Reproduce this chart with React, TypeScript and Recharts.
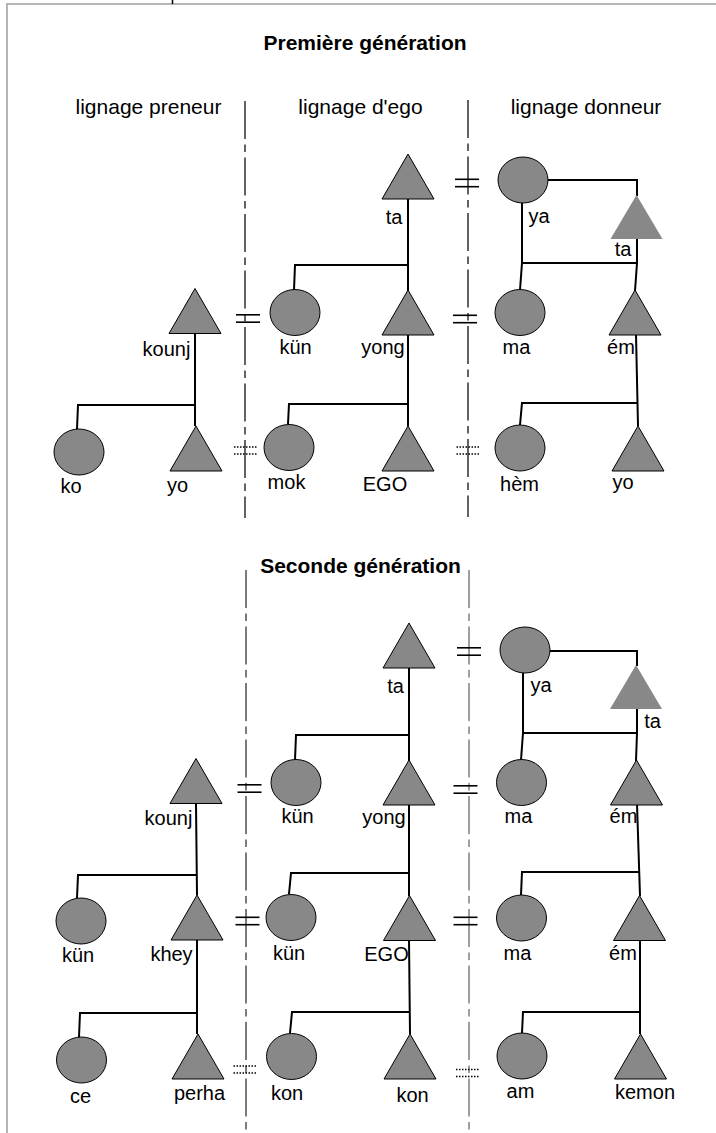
import { Scatter, ScatterChart, XAxis, YAxis } from "recharts"

// diagram space: one unit per pixel of the original figure
const W = 716
const H = 1133

type Pt = { x: number; y: number }

const circles: Pt[] = [
  // première génération
  { x: 295, y: 312.5 },
  { x: 523, y: 180 },
  { x: 520, y: 312.5 },
  { x: 79, y: 452 },
  { x: 289, y: 447.5 },
  { x: 520, y: 448 },
  // seconde génération
  { x: 525, y: 650 },
  { x: 521.5, y: 782.5 },
  { x: 296, y: 782.5 },
  { x: 81, y: 921 },
  { x: 291, y: 917.5 },
  { x: 521.5, y: 918 },
  { x: 81.5, y: 1060 },
  { x: 291.5, y: 1056.5 },
  { x: 522, y: 1056 },
]

const triangles: Pt[] = [
  { x: 408, y: 176.5 },
  { x: 408, y: 312.5 },
  { x: 635, y: 312.5 },
  { x: 195, y: 311 },
  { x: 196, y: 448.5 },
  { x: 408, y: 448.5 },
  { x: 638, y: 448.5 },
  { x: 409, y: 645.5 },
  { x: 409, y: 782.5 },
  { x: 636.5, y: 782.5 },
  { x: 196, y: 781 },
  { x: 197, y: 917.5 },
  { x: 409.5, y: 918 },
  { x: 639.5, y: 918 },
  { x: 198, y: 1056.5 },
  { x: 410, y: 1056.5 },
  { x: 640.5, y: 1056.5 },
]

// the mother's brother "ta" in the donor lineage, drawn without outline
const paleTriangles: Pt[] = [
  { x: 636.5, y: 217 },
  { x: 636, y: 687 },
]

const edges: Pt[][] = [
  [{ x: 408, y: 199 }, { x: 408, y: 291 }],
  [{ x: 408, y: 265 }, { x: 295, y: 265 }, { x: 294, y: 290 }],
  [{ x: 548, y: 180 }, { x: 637, y: 180 }, { x: 637, y: 196 }],
  [{ x: 522, y: 203 }, { x: 522, y: 263 }, { x: 637, y: 263 }],
  [{ x: 637, y: 239 }, { x: 637, y: 263 }, { x: 635, y: 291 }],
  [{ x: 522, y: 263 }, { x: 520, y: 290 }],
  [{ x: 636, y: 334 }, { x: 638, y: 426 }],
  [{ x: 638, y: 403 }, { x: 522, y: 403 }, { x: 520, y: 425 }],
  [{ x: 408, y: 334 }, { x: 408, y: 426 }],
  [{ x: 408, y: 404 }, { x: 289, y: 404 }, { x: 288, y: 424 }],
  [{ x: 195, y: 334 }, { x: 195, y: 426 }],
  [{ x: 195, y: 405 }, { x: 78, y: 405 }, { x: 77, y: 429 }],

  [{ x: 409, y: 668 }, { x: 409, y: 761 }],
  [{ x: 409, y: 735 }, { x: 296, y: 735 }, { x: 295, y: 760 }],
  [{ x: 550, y: 651 }, { x: 637, y: 651 }, { x: 637, y: 666 }],
  [{ x: 523, y: 673 }, { x: 523, y: 733 }, { x: 637, y: 733 }],
  [{ x: 637, y: 709 }, { x: 637, y: 733 }, { x: 636, y: 761 }],
  [{ x: 523, y: 733 }, { x: 521, y: 760 }],
  [{ x: 637, y: 804 }, { x: 640, y: 896 }],
  [{ x: 640, y: 872 }, { x: 522, y: 872 }, { x: 521, y: 895 }],
  [{ x: 640, y: 940 }, { x: 640, y: 1034 }],
  [{ x: 640, y: 1012 }, { x: 523, y: 1012 }, { x: 522, y: 1033 }],
  [{ x: 409, y: 804 }, { x: 409, y: 896 }],
  [{ x: 409, y: 873 }, { x: 291, y: 873 }, { x: 289, y: 894 }],
  [{ x: 409, y: 940 }, { x: 410, y: 1034 }],
  [{ x: 409, y: 1012 }, { x: 292, y: 1012 }, { x: 290, y: 1033 }],
  [{ x: 196, y: 804 }, { x: 197, y: 895 }],
  [{ x: 197, y: 875 }, { x: 78, y: 875 }, { x: 77, y: 898 }],
  [{ x: 197, y: 940 }, { x: 197, y: 1034 }],
  [{ x: 197, y: 1013 }, { x: 80, y: 1013 }, { x: 79, y: 1037 }],
]

// marriage links
const marriages: Pt[] = [
  { x: 467, y: 183 },
  { x: 465, y: 319 },
  { x: 248, y: 318.5 },
  { x: 469, y: 651.5 },
  { x: 465.5, y: 789.5 },
  { x: 249.5, y: 788.5 },
  { x: 247.5, y: 921 },
  { x: 465.5, y: 921 },
]

// prescribed (future) marriages
const prescribed: Pt[] = [
  { x: 245.5, y: 450.5 },
  { x: 468, y: 450.5 },
  { x: 245, y: 1069.5 },
  { x: 467.5, y: 1073 },
]

const dividers: { pts: Pt[]; color: string }[] = [
  { pts: [{ x: 245, y: 101 }, { x: 245, y: 518 }], color: "#222" },
  { pts: [{ x: 468, y: 100 }, { x: 468, y: 517 }], color: "#222" },
  { pts: [{ x: 246, y: 570 }, { x: 246, y: 1133 }], color: "#444" },
  { pts: [{ x: 469, y: 570 }, { x: 469, y: 1133 }], color: "#777" },
]

const frame: Pt[][] = [
  [{ x: 7, y: 1133 }, { x: 7, y: 4 }, { x: 716, y: 4 }],
]

type Label = { x: number; y: number; text: string }

const titles: Label[] = [
  { x: 365, y: 50, text: "Première génération" },
  { x: 360.5, y: 573, text: "Seconde génération" },
]

const headers: Label[] = [
  { x: 148.5, y: 114, text: "lignage preneur" },
  { x: 360.5, y: 114, text: "lignage d'ego" },
  { x: 586, y: 114, text: "lignage donneur" },
]

const names: Label[] = [
  { x: 394, y: 224, text: "ta" },
  { x: 539, y: 223, text: "ya" },
  { x: 623, y: 256, text: "ta" },
  { x: 295.5, y: 354, text: "kün" },
  { x: 383, y: 354, text: "yong" },
  { x: 516.5, y: 354, text: "ma" },
  { x: 621, y: 354, text: "ém" },
  { x: 166.5, y: 356, text: "kounj" },
  { x: 71, y: 493, text: "ko" },
  { x: 177.5, y: 492, text: "yo" },
  { x: 286.5, y: 489, text: "mok" },
  { x: 385, y: 491, text: "EGO" },
  { x: 519.5, y: 491, text: "hèm" },
  { x: 623, y: 489, text: "yo" },

  { x: 395.5, y: 693, text: "ta" },
  { x: 541, y: 692, text: "ya" },
  { x: 652.5, y: 728, text: "ta" },
  { x: 384, y: 824, text: "yong" },
  { x: 518.5, y: 823, text: "ma" },
  { x: 623.5, y: 823, text: "ém" },
  { x: 168.5, y: 825, text: "kounj" },
  { x: 297.5, y: 823, text: "kün" },
  { x: 78, y: 962, text: "kün" },
  { x: 171.5, y: 961, text: "khey" },
  { x: 289, y: 960, text: "kün" },
  { x: 386.5, y: 961, text: "EGO" },
  { x: 517.5, y: 960, text: "ma" },
  { x: 623, y: 960, text: "ém" },
  { x: 80.5, y: 1103, text: "ce" },
  { x: 199.5, y: 1100, text: "perha" },
  { x: 287, y: 1100, text: "kon" },
  { x: 412.5, y: 1102, text: "kon" },
  { x: 520.5, y: 1098, text: "am" },
  { x: 645, y: 1099, text: "kemon" },
]

const FONT = "'Liberation Sans', Arial, sans-serif"
const FILL = "#888888"

const noShape = () => <g />

const CircleShape = (p: any) => (
  <ellipse cx={p.cx} cy={p.cy} rx={25} ry={23} fill={FILL} stroke="#000" strokeWidth={1} />
)

const TriangleShape = (p: any) => (
  <polygon
    points={`${p.cx},${p.cy - 22.5} ${p.cx + 26},${p.cy + 22.5} ${p.cx - 26},${p.cy + 22.5}`}
    fill={FILL}
    stroke="#000"
    strokeWidth={1}
    strokeLinejoin="miter"
  />
)

const PaleTriangleShape = (p: any) => (
  <polygon
    points={`${p.cx},${p.cy - 22} ${p.cx + 26},${p.cy + 22} ${p.cx - 26},${p.cy + 22}`}
    fill={FILL}
  />
)

const MarriageShape = (p: any) => (
  <g stroke="#000" strokeWidth={1.6}>
    <line x1={p.cx - 12} x2={p.cx + 12} y1={p.cy - 3.7} y2={p.cy - 3.7} />
    <line x1={p.cx - 12} x2={p.cx + 12} y1={p.cy + 3.7} y2={p.cy + 3.7} />
  </g>
)

const PrescribedShape = (p: any) => (
  <g stroke="#000" strokeWidth={1.5} strokeDasharray="1.5 1.5">
    <line x1={p.cx - 11.5} x2={p.cx + 11.5} y1={p.cy - 3.5} y2={p.cy - 3.5} />
    <line x1={p.cx - 11.5} x2={p.cx + 11.5} y1={p.cy + 3.5} y2={p.cy + 3.5} />
  </g>
)

const textShape = (size: number, weight: string) => (p: any) => (
  <text
    x={p.cx}
    y={p.cy}
    textAnchor="middle"
    fontFamily={FONT}
    fontSize={size}
    fontWeight={weight}
    fill="#000"
  >
    {p.payload.text}
  </text>
)

export default function App() {
  return (
    <div style={{ position: "absolute", left: 0, top: 0, background: "#fff" }}>
      <ScatterChart width={W} height={H} margin={{ top: 0, right: 0, bottom: 0, left: 0 }}>
        <XAxis type="number" dataKey="x" domain={[0, W]} hide allowDataOverflow />
        <YAxis type="number" dataKey="y" domain={[0, H]} reversed hide allowDataOverflow />

        {frame.map((pts, i) => (
          <Scatter
            key={`frame-${i}`}
            data={pts}
            line={{ stroke: "#b5b5b5", strokeWidth: 2 }}
            shape={noShape}
            isAnimationActive={false}
          />
        ))}
        <Scatter
          data={[{ x: 172.5, y: 0 }, { x: 172.5, y: 4 }]}
          line={{ stroke: "#000", strokeWidth: 1.5 }}
          shape={noShape}
          isAnimationActive={false}
        />

        {dividers.map((d, i) => (
          <Scatter
            key={`div-${i}`}
            data={d.pts}
            line={{ stroke: d.color, strokeWidth: 1.4, strokeDasharray: "38 5.5 7.5 5.5" }}
            shape={noShape}
            isAnimationActive={false}
          />
        ))}

        {edges.map((pts, i) => (
          <Scatter
            key={`edge-${i}`}
            data={pts}
            line={{ stroke: "#000", strokeWidth: 2 }}
            shape={noShape}
            isAnimationActive={false}
          />
        ))}

        <Scatter data={circles} shape={CircleShape} isAnimationActive={false} />
        <Scatter data={triangles} shape={TriangleShape} isAnimationActive={false} />
        <Scatter data={paleTriangles} shape={PaleTriangleShape} isAnimationActive={false} />
        <Scatter data={marriages} shape={MarriageShape} isAnimationActive={false} />
        <Scatter data={prescribed} shape={PrescribedShape} isAnimationActive={false} />

        <Scatter data={titles} shape={textShape(21, "bold")} isAnimationActive={false} />
        <Scatter data={headers} shape={textShape(21, "normal")} isAnimationActive={false} />
        <Scatter data={names} shape={textShape(20, "normal")} isAnimationActive={false} />
      </ScatterChart>
    </div>
  )
}
